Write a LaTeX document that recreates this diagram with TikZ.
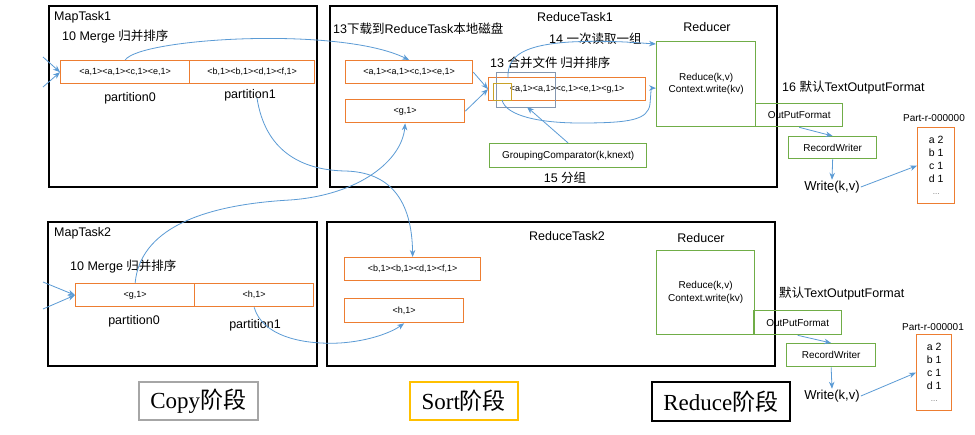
\documentclass[tikz,border=0pt]{standalone}
\usepackage{fontspec}
\setmainfont{Liberation Sans}
\newfontfamily\cjk{Noto Sans CJK SC}
\newfontfamily\serifA{Liberation Serif}
\usetikzlibrary{arrows.meta}
\definecolor{orangeA}{HTML}{ED7D31}
\definecolor{greenA}{HTML}{70AD47}
\definecolor{blueA}{HTML}{5B9BD5}
\definecolor{slateA}{HTML}{8497B0}
\definecolor{goldA}{HTML}{C9A227}
\definecolor{sortA}{HTML}{FFC000}
\definecolor{grayA}{HTML}{A6A6A6}
\begin{document}
\begin{tikzpicture}[x=1pt,y=-1pt,
  frame/.style={draw=black,line width=1.6pt,anchor=north west,inner sep=0pt},
  obox/.style={draw=orangeA,line width=1.3pt,anchor=north west,inner sep=0pt,font=\fontsize{9}{11}\selectfont},
  gbox/.style={draw=greenA,line width=1.3pt,anchor=north west,inner sep=0pt,font=\fontsize{10}{12.5}\selectfont,align=center},
  fbox/.style={draw=orangeA,line width=1.3pt,anchor=north west,inner sep=0pt,align=center,font=\fontsize{10.5}{12.7}\selectfont},
  lbl/.style={inner sep=0pt,font=\fontsize{12.5}{15}\selectfont},
  slbl/.style={inner sep=0pt,font=\fontsize{10}{12}\selectfont},
  stage/.style={line width=1.5pt,anchor=north west,inner sep=0pt,font=\fontsize{23}{27}\selectfont},
  conn/.style={draw=blueA,line width=0.8pt,-{Stealth[length=7pt,width=5.5pt]}}
]
\fill[white] (0,0) rectangle (975,434);
\useasboundingbox (0,0) rectangle (975,434);

% ---------- MapTask1 ----------
\node[frame,minimum width=268pt,minimum height=181pt] (mt1) at (48,5) {};
\node[lbl,anchor=west] (mt1t) at (54,17) {MapTask1};
\node[lbl,anchor=west] (mt1m) at (62,37) {10 Merge {\cjk 归并排序}};
\node[obox,minimum width=129pt,minimum height=23pt] (m1p0) at (60,60) {<a,1><a,1><c,1><e,1>};
\node[obox,minimum width=125pt,minimum height=23pt] (m1p1) at (189,60) {<b,1><b,1><d,1><f,1>};
\node[lbl] (lp10) at (130,98) {partition0};
\node[lbl] (lp11) at (250,95) {partition1};
\coordinate (in1a) at (43,57);
\coordinate (in1b) at (43,87);
\draw[conn] (in1a) -- (m1p0.west);
\draw[conn] (in1b) -- (m1p0.west);

% ---------- ReduceTask1 ----------
\node[frame,minimum width=447pt,minimum height=181pt] (rt1) at (329,5) {};
\node[lbl] (rt1t) at (575,17) {ReduceTask1};
\node[lbl,anchor=west] (dl) at (333,29) {13{\cjk 下载到}ReduceTask{\cjk 本地磁盘}};
\node[obox,minimum width=127pt,minimum height=23pt] (r1a) at (345,60) {<a,1><a,1><c,1><e,1>};
\node[obox,minimum width=119pt,minimum height=23pt] (r1g) at (345,99) {<g,1>};
\node[lbl,anchor=west] (mg) at (490,63) {13 {\cjk 合并文件 归并排序}};
\node[obox,minimum width=157pt,minimum height=23pt] (r1m) at (488,77) {<a,1><a,1><c,1><e,1><g,1>};
\node[draw=slateA,line width=0.8pt,anchor=north west,inner sep=0pt,minimum width=59pt,minimum height=35pt] (grp) at (496,72) {};
\node[draw=goldA,line width=0.8pt,anchor=north west,inner sep=0pt,minimum width=18pt,minimum height=17pt] (one) at (493,83) {};
\node[lbl,anchor=west] (rd) at (549,39) {14 {\cjk 一次读取一组}};
\node[gbox,minimum width=157pt,minimum height=24pt] (gc) at (489,143) {GroupingComparator(k,knext)};
\node[lbl] (fz) at (565,178) {15 {\cjk 分组}};
\node[lbl] (rdc1) at (707,27) {Reducer};
\node[gbox,minimum width=99pt,minimum height=85pt] (red1) at (656,41) {Reduce(k,v)\\Context.write(kv)};
\node[gbox,minimum width=87pt,minimum height=23pt] (of1) at (755,103) {OutPutFormat};
\node[lbl,anchor=west] (tof1) at (782,88) {16 {\cjk 默认}TextOutputFormat};
\node[gbox,minimum width=88pt,minimum height=22pt] (rw1) at (788,136) {RecordWriter};
\node[inner sep=1pt,font=\fontsize{13}{15}\selectfont] (wr1) at (832,187) {Write(k,v)};
\node[slbl] (pn1) at (934,118) {Part-r-000000};
\node[fbox,minimum width=37pt,minimum height=76pt] (pt1) at (917,127) {a 2\\b 1\\c 1\\d 1\\{\color{black!55}\fontsize{8}{10}\selectfont ...}};

\draw[conn] (r1a.east) -- (r1m.west);
\draw[conn] (r1g.east) -- (r1m.west);
\coordinate (c9e) at (527,107);
\draw[conn] (gc.north) -- (c9e);
\coordinate (c7s) at (508,78);
\draw[conn] (c7s) .. controls (507,55) and (525,45) .. (570,42) .. controls (610,40) and (640,43) .. ([yshift=-3pt]red1.north west);
\coordinate (c8s) at (502,100);
\draw[conn] (c8s) .. controls (506,116) and (540,123) .. (580,123) .. controls (630,123) and (648,120) .. (650,104) .. controls (651,92) and (651,88) .. ([yshift=-4pt]red1.west);
\draw[conn] (of1.south) -- (rw1.north);
\draw[conn] (rw1.south) -- (wr1.north);
\draw[conn] (wr1.east) -- (pt1.west);

% ---------- MapTask2 ----------
\node[frame,minimum width=269pt,minimum height=144pt] (mt2) at (47,221) {};
\node[lbl,anchor=west] (mt2t) at (54,233) {MapTask2};
\node[lbl,anchor=west] (mt2m) at (70,267) {10 Merge {\cjk 归并排序}};
\node[obox,minimum width=119pt,minimum height=23pt] (m2p0) at (75,283) {<g,1>};
\node[obox,minimum width=119pt,minimum height=23pt] (m2p1) at (194,283) {<h,1>};
\node[lbl] (lp20) at (134,321) {partition0};
\node[lbl] (lp21) at (255,325) {partition1};
\coordinate (in2a) at (43,282);
\coordinate (in2b) at (43,309);
\draw[conn] (in2a) -- (m2p0.west);
\draw[conn] (in2b) -- (m2p0.west);

% ---------- ReduceTask2 ----------
\node[frame,minimum width=448pt,minimum height=144pt] (rt2) at (326,221) {};
\node[lbl] (rt2t) at (567,236) {ReduceTask2};
\node[obox,minimum width=136pt,minimum height=23pt] (r2b) at (344,257) {<b,1><b,1><d,1><f,1>};
\node[obox,minimum width=119pt,minimum height=24pt] (r2h) at (344,298) {<h,1>};
\node[lbl] (rdc2) at (701,238) {Reducer};
\node[gbox,minimum width=98pt,minimum height=84pt] (red2) at (656,250) {Reduce(k,v)\\Context.write(kv)};
\node[gbox,minimum width=88pt,minimum height=24pt] (of2) at (753,310) {OutPutFormat};
\node[lbl,anchor=west] (tof2) at (779,294) {{\cjk 默认}TextOutputFormat};
\node[gbox,minimum width=89pt,minimum height=23pt] (rw2) at (786,343) {RecordWriter};
\node[inner sep=1pt,font=\fontsize{13}{15}\selectfont] (wr2) at (832,396) {Write(k,v)};
\node[slbl] (pn2) at (933,327) {Part-r-000001};
\node[fbox,minimum width=35pt,minimum height=76pt] (pt2) at (916,334) {a 2\\b 1\\c 1\\d 1\\{\color{black!55}\fontsize{8}{10}\selectfont ...}};
\draw[conn] (of2.south) -- (rw2.north);
\draw[conn] (rw2.south) -- (wr2.north);
\draw[conn] (wr2.east) -- (pt2.west);

% ---------- cross connectors ----------
\draw[conn] (m1p0.north) .. controls (140,38) and (340,26) .. (r1a.north);
\coordinate (c2s) at (257,98);
\draw[conn] (c2s) .. controls (265,150) and (300,170) .. (345,171) .. controls (390,172) and (412,200) .. (r2b.north);
\draw[conn] (m2p0.north) .. controls (140,230) and (200,205) .. (290,200) .. controls (360,195) and (402,160) .. (r1g.south);
\draw[conn] (m2p1.south) .. controls (262,335) and (300,345) .. (340,343) .. controls (370,341) and (392,332) .. (r2h.south);

% ---------- stages ----------
\node[stage,draw=grayA,minimum width=119pt,minimum height=38pt] (copy) at (138,381) {\serifA Copy{\cjk 阶段}};
\node[stage,draw=sortA,minimum width=108pt,minimum height=38pt] (sort) at (409,381) {\serifA Sort{\cjk 阶段}};
\node[stage,draw=black,minimum width=138pt,minimum height=39pt] (redst) at (651,381) {\serifA Reduce{\cjk 阶段}};
\end{tikzpicture}
\end{document}
